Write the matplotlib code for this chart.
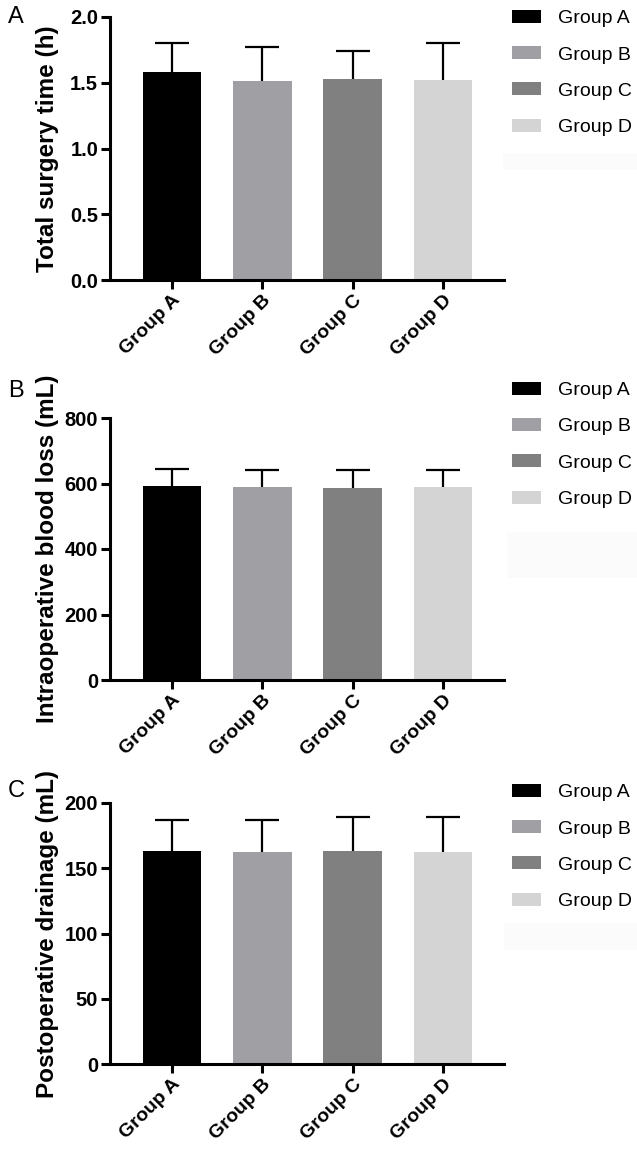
"""Three-panel bar chart: surgery time, blood loss, drainage by group."""
import matplotlib
matplotlib.use('Agg')
import matplotlib.pyplot as plt
from matplotlib.patches import Rectangle

plt.rcParams['font.family'] = ['Liberation Sans', 'DejaVu Sans']

groups = ["Group A", "Group B", "Group C", "Group D"]
bar_colors = ["#000000", "#a0a0a4", "#808080", "#d4d4d4"]

# mean and SD per group
surgery_time = [1.58, 1.51, 1.53, 1.52]
surgery_time_sd = [0.22, 0.26, 0.21, 0.28]
blood_loss = [592, 588, 587, 590]
blood_loss_sd = [52, 53, 54, 51]
drainage = [163.3, 162.5, 163.5, 162.5]
drainage_sd = [23.4, 24.2, 25.5, 26.5]

panels = [
    ("A", "Total surgery time (h)", surgery_time, surgery_time_sd,
     (0, 2.0), [0.0, 0.5, 1.0, 1.5, 2.0], "{:.1f}"),
    ("B", "Intraoperative blood loss (mL)", blood_loss, blood_loss_sd,
     (0, 800), [0, 200, 400, 600, 800], "{:.0f}"),
    ("C", "Postoperative drainage (mL)", drainage, drainage_sd,
     (0, 200), [0, 50, 100, 150, 200], "{:.0f}"),
]

W, H = 637, 1150
fig = plt.figure(figsize=(W / 100, H / 100), dpi=100)
fig.patch.set_facecolor('white')

# axes boxes in pixels: (left, top, right, bottom)
boxes = [(110, 17, 504, 280), (110, 418, 504, 680), (110, 803, 504, 1064)]
letter_y = [6, 380, 780]
legend_top = [10, 382, 784]
faint_box = [(503, 153, 134, 17), (507, 532, 130, 46), (504, 923, 133, 27)]

for (letter, ylabel, vals, sds, ylim, yticks, fmt), (l, t, r, b), ly, lt, fb in zip(
        panels, boxes, letter_y, legend_top, faint_box):
    ax = fig.add_axes([l / W, 1 - b / H, (r - l) / W, (b - t) / H])
    x = range(len(groups))
    bars = ax.bar(x, vals, width=0.65, color=bar_colors, zorder=2, label=groups)
    # symmetric bars drawn behind the columns, so only the upper half shows
    ax.errorbar(x, vals, yerr=sds, fmt='none', ecolor='black',
                elinewidth=1.6, capsize=12, capthick=1.6, zorder=1)
    ax.set_xlim(-0.687, 3.677)
    ax.set_ylim(*ylim)
    ax.set_yticks(yticks)
    ax.set_yticklabels([fmt.format(v) for v in yticks], fontweight='bold', fontsize=14.5)
    ax.set_xticks(list(x))
    ax.set_xticklabels(groups, rotation=45, ha='right', rotation_mode='anchor',
                       fontweight='bold', fontsize=14)
    for s in ['top', 'right']:
        ax.spines[s].set_visible(False)
    for s in ['left', 'bottom']:
        ax.spines[s].set_linewidth(2.2)
    ax.tick_params(axis='both', width=2.2, length=6.5, pad=2)
    ax.set_ylabel(ylabel, fontweight='bold', fontsize=17.5)
    ax.yaxis.set_label_coords(-0.13, 0.5)

    fig.text(8 / W, 1 - ly / H, letter, fontsize=17, va='top', ha='left')

    ax.legend(bars, groups, loc='upper left', bbox_to_anchor=(512 / W, 1 - lt / H),
              bbox_transform=fig.transFigure, frameon=False, fontsize=14,
              handlelength=1.5, handleheight=0.65, handletextpad=0.85,
              labelspacing=0.97, borderpad=0, borderaxespad=0)

    fig.patches.append(Rectangle((fb[0] / W, 1 - (fb[1] + fb[3]) / H), fb[2] / W, fb[3] / H,
                                 transform=fig.transFigure, facecolor='#fbfbfb',
                                 edgecolor='none', zorder=0))

fig.savefig('out.png', dpi=100, facecolor='white')
